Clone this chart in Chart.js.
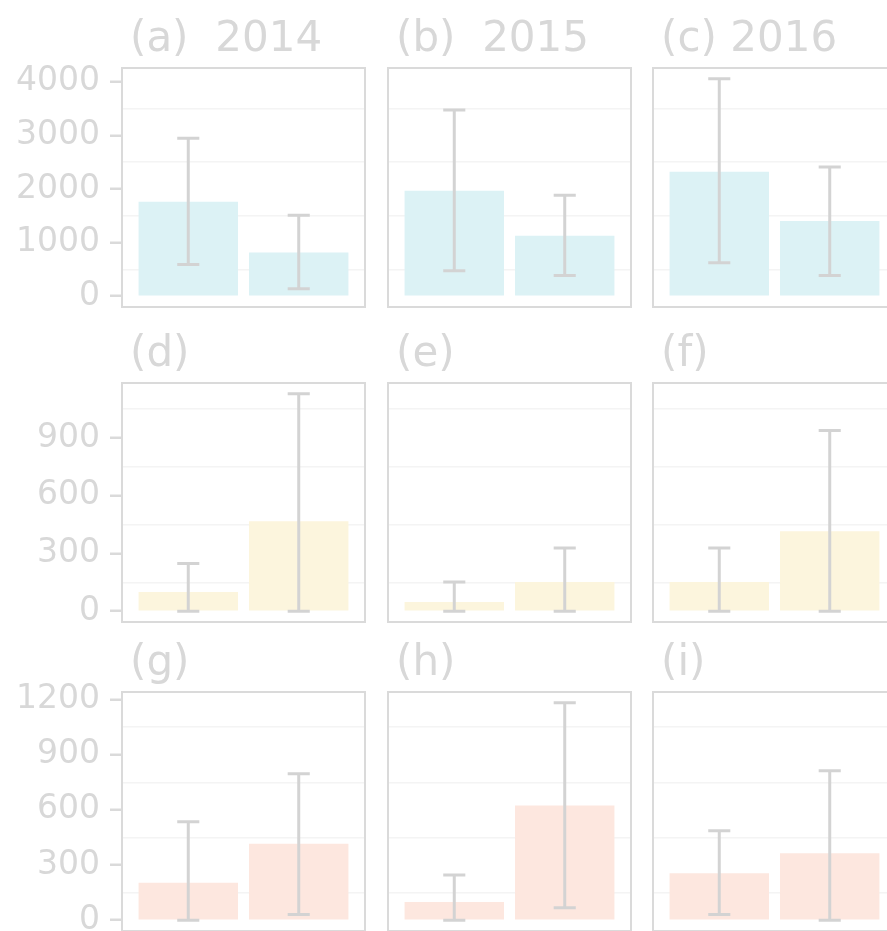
<!DOCTYPE html>
<html>
<head>
<meta charset="utf-8">
<script src="https://cdn.jsdelivr.net/npm/chart.js@4.4.1/dist/chart.umd.min.js"></script>
<style>
  html, body { margin: 0; padding: 0; background: #fff; overflow: hidden; }
  #wrap { position: relative; width: 887px; height: 931px; overflow: hidden; }
  canvas { position: absolute; }
</style>
</head>
<body>
<div id="wrap"></div>
<script>
// x positions of the two bars in every panel
const groups = [1, 2];

// panel titles, one row per facet row
const titles = [
  ["(a)  2014", "(b)  2015", "(c) 2016"],
  ["(d)", "(e)", "(f)"],
  ["(g)", "(h)", "(i)"]
];

// row 1 (blue)
const blueMean = [[1763, 816], [1968, 1127], [2324, 1402]];
const blueLow  = [[592, 137], [473, 387], [623, 387]];
const blueHigh = [[2947, 1508], [3477, 1882], [4056, 2411]];

// row 2 (yellow)
const yellowMean = [[100, 467], [48, 151], [151, 415]];
const yellowLow  = [[0, 0], [0, 0], [0, 0]];
const yellowHigh = [[248, 1130], [152, 329], [329, 940]];

// row 3 (red)
const redMean = [[204, 415], [98, 624], [255, 364]];
const redLow  = [[0, 31], [0, 67], [31, 0]];
const redHigh = [[535, 797], [245, 1182], [486, 813]];

// y ticks per row (major with labels, minor grid only)
const blueTicks = [0, 1000, 2000, 3000, 4000];
const blueMinor = [500, 1500, 2500, 3500];
const yellowTicks = [0, 300, 600, 900];
const yellowMinor = [150, 450, 750, 1050];
const redTicks = [0, 300, 600, 900, 1200];
const redMinor = [150, 450, 750, 1050];

const rows = [
  { mean: blueMean, low: blueLow, high: blueHigh, ticks: blueTicks, minor: blueMinor, fill: "#dcf2f5" },
  { mean: yellowMean, low: yellowLow, high: yellowHigh, ticks: yellowTicks, minor: yellowMinor, fill: "#fcf5dd" },
  { mean: redMean, low: redLow, high: redHigh, ticks: redTicks, minor: redMinor, fill: "#fde7df" }
];

const rowTop = [0, 315, 624];
const colLeft = [0, 386, 651];
const AXIS_W = 122;
const BOX_W = 243;
const TEXT = "#d8d8d8";
const LINE = "#dadada";

Chart.defaults.font.family = "'DejaVu Sans', sans-serif";
Chart.defaults.color = TEXT;

const errorBars = {
  id: "errorBars",
  afterLayout(chart) {
    // nudge the facet title a little right of the panel edge
    if (chart.titleBlock) {
      chart.titleBlock.left += 8;
      chart.titleBlock.right += 8;
    }
  },
  afterDatasetsDraw(chart, args, opts) {
    const { ctx } = chart;
    const x = chart.scales.x, y = chart.scales.y;
    ctx.save();
    ctx.strokeStyle = "#d3d3d3";
    ctx.lineWidth = 3;
    opts.low.forEach((lo, i) => {
      const px = x.getPixelForValue(groups[i]);
      const c0 = x.getPixelForValue(groups[i] - 0.1);
      const c1 = x.getPixelForValue(groups[i] + 0.1);
      const top = y.getPixelForValue(opts.high[i]);
      const bot = y.getPixelForValue(lo);
      ctx.beginPath();
      ctx.moveTo(px, top); ctx.lineTo(px, bot);
      ctx.moveTo(c0, top); ctx.lineTo(c1, top);
      ctx.moveTo(c0, bot); ctx.lineTo(c1, bot);
      ctx.stroke();
    });
    ctx.restore();
  },
  afterDraw(chart) {
    const { ctx, chartArea: a } = chart;
    ctx.save();
    ctx.strokeStyle = LINE;
    ctx.lineWidth = 2;
    ctx.strokeRect(a.left, a.top, a.right - a.left, a.bottom - a.top);
    ctx.restore();
  }
};

const wrap = document.getElementById("wrap");

rows.forEach((row, r) => {
  // ggplot-style 5% expansion from 0 to the highest error bar
  const top = Math.max(...row.high.flat());
  const yMin = -0.05 * top;
  const yMax = 1.05 * top;
  const allTicks = row.ticks.concat(row.minor).sort((a, b) => a - b);

  for (let c = 0; c < 3; c++) {
    const first = c === 0;
    const canvas = document.createElement("canvas");
    canvas.width = (first ? AXIS_W : 2) + BOX_W + 2;
    canvas.height = 68 + 239 + 4;
    canvas.style.left = colLeft[c] + "px";
    canvas.style.top = rowTop[r] + "px";
    wrap.appendChild(canvas);

    new Chart(canvas, {
      type: "bar",
      data: {
        datasets: [{
          data: groups.map((g, i) => ({ x: g, y: row.mean[c][i] })),
          backgroundColor: row.fill,
          barPercentage: 0.9,
          categoryPercentage: 1
        }]
      },
      options: {
        responsive: false,
        animation: false,
        events: [],
        layout: { padding: { left: first ? 0 : 2, right: 2, bottom: 4, top: 0 } },
        scales: {
          x: {
            type: "linear",
            min: 0.4,
            max: 2.6,
            offset: false,
            display: false,
            grid: { offset: false },
            afterBuildTicks: s => { s.ticks = groups.map(v => ({ value: v })); }
          },
          y: {
            min: yMin,
            max: yMax,
            afterBuildTicks: s => { s.ticks = allTicks.map(v => ({ value: v })); },
            afterFit: s => {
              s.width = first ? AXIS_W : 0;
              s.paddingTop = 0;
              s.paddingBottom = 0;
            },
            border: { display: false },
            grid: {
              color: ctx => row.minor.includes(ctx.tick.value) ? "#f4f4f4" : "rgba(0,0,0,0)",
              lineWidth: 1.5,
              drawTicks: first,
              tickLength: 12,
              tickWidth: 2.5,
              tickColor: ctx => row.ticks.includes(ctx.tick.value) ? LINE : "rgba(0,0,0,0)"
            },
            ticks: {
              display: first,
              autoSkip: false,
              padding: 10,
              color: TEXT,
              font: { size: 33 },
              callback: v => row.ticks.includes(v) ? String(v) : ""
            }
          }
        },
        plugins: {
          legend: { display: false },
          tooltip: { enabled: false },
          title: {
            display: true,
            text: titles[r][c],
            align: "start",
            fullSize: false,
            color: TEXT,
            font: { size: 42, weight: "normal", lineHeight: 1 },
            padding: { top: 19, bottom: 7 }
          },
          errorBars: { low: row.low[c], high: row.high[c] }
        }
      },
      plugins: [errorBars]
    });
  }
});
</script>
</body>
</html>
